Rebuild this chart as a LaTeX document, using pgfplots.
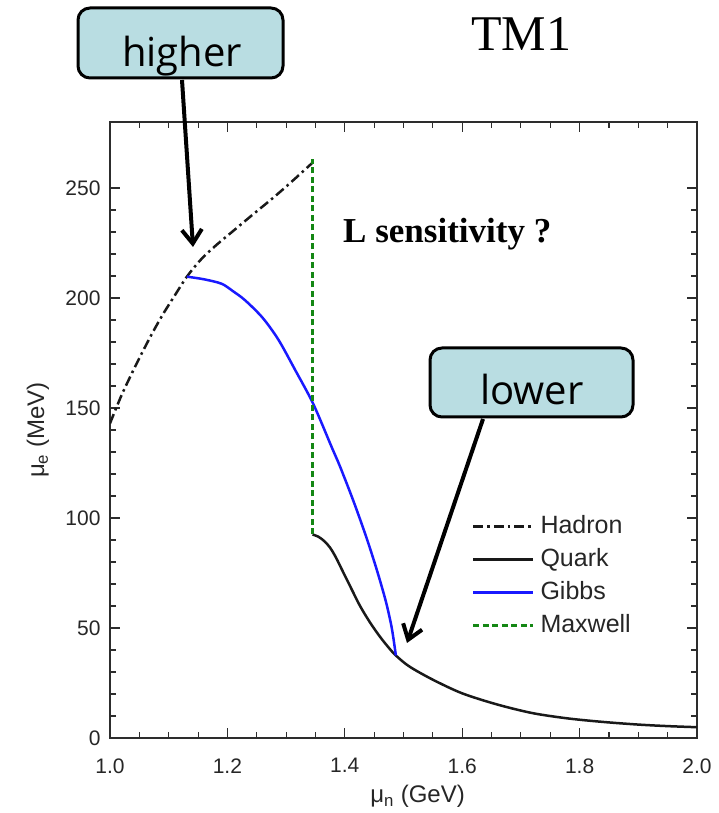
\documentclass[border=0pt]{standalone}
\usepackage{fontspec}
\setmainfont{Liberation Sans}
\newfontfamily\timesfont{Liberation Serif}
\newfontfamily\boxfont{Open Sans}
\usepackage{pgfplots}
\pgfplotsset{compat=1.18}
\usetikzlibrary{arrows.meta}

\definecolor{boxfill}{RGB}{185,221,226}
\definecolor{gibbsblue}{RGB}{25,25,255}
\definecolor{maxgreen}{RGB}{20,135,20}
\definecolor{framegray}{RGB}{45,45,45}

\begin{document}
\begin{tikzpicture}[x=1pt,y=1pt]
\path[use as bounding box] (0,0) rectangle (719,813);

\begin{axis}[
  at={(110pt,75pt)}, anchor=south west,
  width=587pt, height=616pt, scale only axis,
  xmin=1, xmax=2, ymin=0, ymax=280,
  xtick={1.0,1.2,1.4,1.6,1.8,2.0},
  ytick={0,50,100,150,200,250},
  minor x tick num=3, minor y tick num=4,
  xticklabel={\pgfmathprintnumber[fixed,fixed zerofill,precision=1]{\tick}},
  /pgf/number format/assume math mode=true,
  tick label style={font=\fontsize{21}{25}\selectfont, text=black!85},
  yticklabel style={xshift=-6pt},
  xticklabel style={yshift=-17pt},
  major tick length=10pt, minor tick length=6pt,
  every tick/.style={framegray, line width=1.1pt},
  axis line style={framegray, line width=1.4pt},
  xlabel={μ\textsubscript{n} (GeV)},
  ylabel={μ\textsubscript{e} (MeV)},
  label style={font=\fontsize{24}{28}\selectfont, text=black!85},
  xlabel style={at={(axis description cs:0.524,-0.1055)}, anchor=base},
  ylabel style={at={(axis description cs:-0.1124,0.5)}, anchor=base, rotate=0},
  legend style={at={(axis description cs:0.6167,0.362)}, anchor=north west,
    draw=none, fill=none, inner sep=0pt, outer sep=0pt,
    font=\fontsize{25}{30}\selectfont, text=black!85,
    row sep=10pt, column sep=6pt,
    nodes={inner sep=0pt, text height=18pt, text depth=5pt}},
  legend cell align=left,
  legend image code/.code={\draw[#1] (0pt,0pt) -- (60pt,0pt);},
]

% hadronic phase
\addplot[black!90, line width=2.5pt, dash pattern=on 10pt off 4pt on 2.5pt off 4pt,
  smooth, tension=0.5] coordinates {
  (1.000,143) (1.020,156) (1.045,170) (1.070,183) (1.090,192.5) (1.110,201)
  (1.131,209.7) (1.155,217.5) (1.180,223.8) (1.210,230.5) (1.240,237.2)
  (1.280,246) (1.310,253) (1.345,261.5)
};
\addlegendentry{Hadron}

% quark phase
\addplot[black!90, line width=2.5pt, smooth, tension=0.5] coordinates {
  (1.345,92.5) (1.355,91.5) (1.365,89.5) (1.375,86.5) (1.385,82) (1.397,75.5)
  (1.410,68.5) (1.426,60) (1.443,52.5) (1.460,46) (1.475,41) (1.487,37.5)
  (1.510,32.5) (1.550,26.5) (1.600,20.3) (1.660,15.2) (1.720,11.3) (1.780,8.9)
  (1.840,7.3) (1.900,6.1) (1.950,5.4) (2.000,4.9)
};
\addlegendentry{Quark}

% Gibbs mixed phase
\addplot[gibbsblue, line width=2.5pt, smooth, tension=0.5] coordinates {
  (1.131,209.7) (1.160,208.5) (1.190,206.5) (1.210,203) (1.230,199)
  (1.260,191) (1.287,181) (1.315,167.5) (1.346,152) (1.378,132) (1.392,123.3)
  (1.415,107.5) (1.437,91) (1.455,76) (1.470,62) (1.480,50) (1.487,37.5)
};
\addlegendentry{Gibbs}

% Maxwell construction
\addplot[maxgreen, line width=2.5pt, dash pattern=on 6pt off 3.5pt] coordinates {
  (1.345,92.5) (1.345,263)
};
\addlegendentry{Maxwell}

\end{axis}

% title and annotation
\node[anchor=base, inner sep=0pt] at (521,762) {\timesfont\fontsize{50}{56}\selectfont TM1};
\node[anchor=base west, inner sep=0pt] at (343,570)
  {\timesfont\bfseries\fontsize{35}{40}\selectfont L sensitivity ?};

% callout boxes
\draw[line width=3pt, rounded corners=12pt, fill=boxfill] (78,735) rectangle (283,805);
\node[anchor=base, inner sep=0pt] at (182,746) {\boxfont\fontsize{40}{46}\selectfont higher};
\draw[line width=3pt, rounded corners=12pt, fill=boxfill] (430,396) rectangle (633,465);
\node[anchor=base, inner sep=0pt] at (532,408) {\boxfont\fontsize{40}{46}\selectfont lower};

% arrows
\draw[line width=4pt, -{Straight Barb[length=14pt,width=20pt]}] (182,733) -- (193,566);
\draw[line width=4pt, -{Straight Barb[length=14pt,width=20pt]}] (483,394) -- (407,170);

\end{tikzpicture}
\end{document}
